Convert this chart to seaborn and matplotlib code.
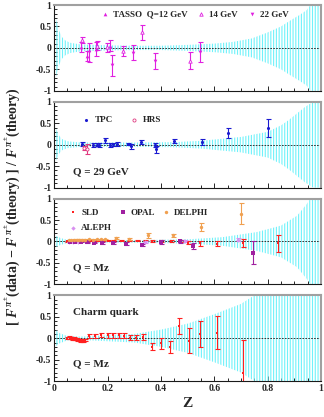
import matplotlib
matplotlib.use('Agg')
import matplotlib.pyplot as plt
import numpy as np
import pandas as pd
import seaborn as sns
from matplotlib.ticker import MultipleLocator

sns.set_theme(style='ticks')
plt.rcParams['font.family'] = ['Liberation Serif', 'DejaVu Serif']
plt.rcParams['font.weight'] = 'bold'
plt.rcParams['axes.labelweight'] = 'bold'
plt.rcParams['axes.unicode_minus'] = False
plt.rcParams['mathtext.fontset'] = 'custom'
plt.rcParams['mathtext.rm'] = 'Liberation Serif:bold'
plt.rcParams['mathtext.it'] = 'Liberation Serif:bold:italic'
plt.rcParams['mathtext.bf'] = 'Liberation Serif:bold'
plt.rcParams['hatch.linewidth'] = 0.8

#%% data
# theory uncertainty band (half width) for each panel
band1_z = [0.005, 0.01, 0.02, 0.03, 0.04, 0.06, 0.1, 0.2, 0.3, 0.4, 0.5, 0.6, 0.67, 0.74, 0.8, 0.85, 0.88, 0.92, 0.946, 0.96, 1.0]
band1_w = [0.75, 0.6, 0.38, 0.25, 0.18, 0.12, 0.08, 0.06, 0.05, 0.05, 0.07, 0.1, 0.14, 0.22, 0.36, 0.5, 0.62, 0.77, 0.88, 1.0, 1.0]
band2_z = [0.005, 0.01, 0.02, 0.03, 0.05, 0.1, 0.3, 0.45, 0.55, 0.7, 0.8, 0.85, 0.88, 0.92, 0.94, 0.97, 1.0]
band2_w = [0.42, 0.33, 0.2, 0.13, 0.08, 0.05, 0.05, 0.06, 0.09, 0.18, 0.3, 0.45, 0.58, 0.78, 0.88, 1.0, 1.0]
band3_z = [0.005, 0.02, 0.04, 0.1, 0.3, 0.5, 0.63, 0.76, 0.85, 0.91, 0.946, 0.96, 1.0]
band3_w = [0.14, 0.09, 0.05, 0.03, 0.03, 0.05, 0.1, 0.22, 0.37, 0.6, 0.87, 1.0, 1.0]
band4_z = [0.005, 0.02, 0.05, 0.1, 0.2, 0.3, 0.4, 0.5, 0.6, 0.7, 0.75, 1.0]
band4_w = [0.2, 0.12, 0.05, 0.04, 0.07, 0.1, 0.2, 0.34, 0.56, 0.8, 1.0, 1.0]

# TASSO
tasso12_z = [0.099, 0.125, 0.158, 0.210]
tasso12_y = [0.015, -0.185, -0.02, 0.05]
tasso12_e = [0.12, 0.11, 0.16, 0.13]
tasso14_z = [0.106, 0.160, 0.197, 0.257, 0.328, 0.509]
tasso14_y = [0.185, 0.05, 0.015, -0.07, 0.36, -0.30]
tasso14_e = [0.06, 0.10, 0.11, 0.11, 0.17, 0.20]
tasso22_z = [0.131, 0.216, 0.297, 0.378, 0.548]
tasso22_y = [-0.10, -0.41, -0.11, -0.31, -0.10]
tasso22_e = [0.22, 0.25, 0.17, 0.185, 0.23]

# Q = 29 GeV
tpc_z = [0.104, 0.147, 0.159, 0.170, 0.191, 0.210, 0.220, 0.236, 0.277, 0.288, 0.325, 0.378, 0.380, 0.450, 0.553, 0.653, 0.803]
tpc_y = [0.02, 0.00, 0.00, -0.01, 0.10, 0.00, 0.01, 0.02, 0.02, -0.04, 0.06, 0.00, -0.11, 0.08, 0.06, 0.27, 0.38]
tpc_e = [0.04, 0.05, 0.04, 0.04, 0.05, 0.05, 0.04, 0.04, 0.03, 0.05, 0.04, 0.05, 0.08, 0.05, 0.07, 0.11, 0.21]
hrs_z = [0.112, 0.122]
hrs_y = [-0.08, -0.10]
hrs_e = [0.04, 0.11]

# Q = Mz
sld_z = [0.05, 0.06, 0.07, 0.08, 0.09, 0.10, 0.11, 0.12, 0.14, 0.16, 0.18, 0.20, 0.22, 0.25, 0.28, 0.31, 0.34, 0.366, 0.40, 0.437, 0.474, 0.503, 0.547, 0.61, 0.706, 0.84]
sld_y = [0.0, 0.0, 0.005, 0.01, 0.01, 0.01, 0.01, 0.01, 0.015, 0.015, 0.015, 0.015, 0.015, 0.015, 0.015, 0.015, 0.015, 0.01, 0.01, 0.015, 0.01, -0.03, -0.04, -0.05, -0.04, -0.04]
sld_e = [0.01] * 17 + [0.03, 0.03, 0.03, 0.03, 0.04, 0.06, 0.05, 0.10, 0.20]
opal_z = [0.06, 0.08, 0.10, 0.125, 0.15, 0.18, 0.22, 0.27, 0.33, 0.40, 0.47, 0.52, 0.746]
opal_y = [-0.01, -0.01, -0.01, -0.02, -0.025, -0.03, -0.04, -0.05, -0.08, -0.015, 0.0, -0.10, -0.26]
opal_e = [0.01, 0.01, 0.01, 0.01, 0.02, 0.02, 0.02, 0.03, 0.03, 0.04, 0.03, 0.07, 0.27]
delphi_z = [0.055, 0.065, 0.075, 0.085, 0.095, 0.105, 0.115, 0.13, 0.145, 0.16, 0.175, 0.19, 0.23, 0.28, 0.35, 0.447, 0.55, 0.70]
delphi_y = [0.03, 0.035, 0.04, 0.04, 0.045, 0.04, 0.045, 0.05, 0.045, 0.05, 0.05, 0.05, 0.08, 0.06, 0.14, 0.14, 0.33, 0.65]
delphi_e = [0.01] * 12 + [0.02, 0.02, 0.05, 0.03, 0.09, 0.24]
aleph_z = [0.055, 0.07, 0.09, 0.34, 0.49, 0.69]
aleph_y = [-0.01, -0.01, -0.01, -0.02, 0.01, 0.04]
aleph_e = [0.01, 0.01, 0.01, 0.02, 0.02, 0.03]

# charm quark, Q = Mz
charm_z = [0.047, 0.055, 0.062, 0.068, 0.074, 0.080, 0.086, 0.092, 0.098, 0.104, 0.110, 0.116, 0.132, 0.154, 0.176, 0.200, 0.222, 0.243, 0.262, 0.285, 0.307, 0.334, 0.368, 0.402, 0.434, 0.467, 0.505, 0.547, 0.609, 0.707]
charm_y = [0.01, 0.02, 0.01, 0.0, 0.0, -0.02, -0.03, -0.04, -0.05, -0.05, -0.05, -0.04, 0.05, 0.06, 0.07, 0.07, 0.07, 0.07, 0.06, 0.01, 0.01, 0.02, -0.20, -0.12, -0.21, 0.28, -0.055, 0.10, 0.13, -0.81]
charm_e = [0.03] * 12 + [0.05, 0.05, 0.05, 0.06, 0.06, 0.06, 0.06, 0.06, 0.06, 0.07, 0.08, 0.12, 0.14, 0.19, 0.30, 0.30, 0.38, 0.77]

#%% plot
cyan = '#70f2fa'
fig, ax = plt.subplots(figsize=(3.24, 4.17), dpi=100, nrows=4, ncols=1, sharex=True,
                       gridspec_kw=dict(hspace=0.128))
fig.subplots_adjust(left=0.167, right=0.991, top=0.988, bottom=0.086)


def band(a, z, w):
    z = np.array(z)
    w = np.array(w)
    a.fill_between(z, -w, w, facecolor='none', edgecolor=cyan, hatch='||||||', linewidth=0)


def points(a, z, y, e, color, marker, label, filled=True, ms=5):
    a.errorbar(z, y, yerr=e, fmt='none', ecolor=color, elinewidth=0.8, capsize=1.8, capthick=0.8)
    df = pd.DataFrame({'z': z, 'y': y})
    if filled:
        sns.scatterplot(x='z', y='y', data=df, marker=marker, color=color, s=ms,
                        linewidth=0, ax=a, label=label, zorder=3)
    else:
        sns.scatterplot(x='z', y='y', data=df, marker=marker, facecolor='white', edgecolor=color, s=ms,
                        linewidth=0.6, ax=a, label=label, zorder=3)


for a, (bz, bw) in zip(ax, [(band1_z, band1_w), (band2_z, band2_w), (band3_z, band3_w), (band4_z, band4_w)]):
    band(a, bz, bw)
    a.axhline(0, color='k', ls=(0, (2, 1.5)), lw=0.6, zorder=2)

mag = '#e020e0'
points(ax[0], tasso12_z, tasso12_y, tasso12_e, mag, '^', 'TASSO  Q=12 GeV', ms=7)
points(ax[0], tasso14_z, tasso14_y, tasso14_e, mag, '^', '14 GeV', filled=False, ms=6)
points(ax[0], tasso22_z, tasso22_y, tasso22_e, mag, 'v', '22 GeV', ms=7)

points(ax[1], tpc_z, tpc_y, tpc_e, '#1a1ad0', 'o', 'TPC', ms=5)
points(ax[1], hrs_z, hrs_y, hrs_e, '#e03a80', 'o', 'HRS', filled=False, ms=5)

points(ax[2], sld_z, sld_y, sld_e, '#ff2020', 's', 'SLD', ms=4)
points(ax[2], aleph_z, aleph_y, aleph_e, '#d890f0', 'D', 'ALEPH', ms=5)
points(ax[2], opal_z, opal_y, opal_e, '#a020a0', 's', 'OPAL', ms=5)
points(ax[2], delphi_z, delphi_y, delphi_e, '#f0a050', 'o', 'DELPHI', ms=6)

points(ax[3], charm_z, charm_y, charm_e, '#ff2020', 's', None, ms=4)

leg_kw = dict(frameon=False, fontsize=6.5, handletextpad=0.3, handlelength=1.2, markerscale=1.0, borderaxespad=0.2)
ax[0].legend(loc='upper left', ncol=3, columnspacing=0.9, bbox_to_anchor=(0.15, 1.0), **leg_kw)
ax[1].legend(loc='upper left', ncol=2, columnspacing=1.8, bbox_to_anchor=(0.08, 0.9), **leg_kw)
ax[2].legend(loc='upper left', ncol=3, columnspacing=0.6, labelspacing=0.8, bbox_to_anchor=(0.03, 0.95), **leg_kw)
if ax[3].get_legend() is not None:
    ax[3].get_legend().remove()

ax[1].text(0.07, -0.62, 'Q = 29 GeV', fontsize=8, va='center')
ax[2].text(0.07, -0.62, 'Q = Mz', fontsize=8, va='center')
ax[3].text(0.07, 0.6, 'Charm quark', fontsize=8, va='center')
ax[3].text(0.07, -0.6, 'Q = Mz', fontsize=8, va='center')

for a in ax:
    a.set(xlim=(0, 1), ylim=(-1, 1), xlabel='', ylabel='')
    a.set_yticks([-1, -0.5, 0, 0.5, 1], labels=['-1', '-0.5', '0', '0.5', '1'])
    a.yaxis.set_minor_locator(MultipleLocator(0.1))
    a.xaxis.set_minor_locator(MultipleLocator(0.05))
    a.tick_params(which='both', direction='in', labelsize=7, width=0.7, pad=2)
    a.tick_params(which='major', length=3.5)
    a.tick_params(which='minor', length=2)
    for s in ['top', 'right']:
        a.spines[s].set_color('#a0a0a0')
        a.spines[s].set_linewidth(1.5)
    for s in ['left', 'bottom']:
        a.spines[s].set_color('k')
        a.spines[s].set_linewidth(0.8)

ax[3].set_xticks([0, 0.2, 0.4, 0.6, 0.8, 1], labels=['0', '0.2', '0.4', '0.6', '0.8', '1'])
ax[3].set_xlabel('Z', fontsize=11, fontweight='bold', labelpad=3)

fig.text(0.04, 0.505, r'[ $F^{\,\pi^{\pm}}$(data) $-$ $F^{\,\pi^{\pm}}$(theory) ] / $F^{\,\pi^{\pm}}$(theory)',
         rotation=90, va='center', ha='center', fontsize=10)

fig.savefig('out.png', dpi=100)
